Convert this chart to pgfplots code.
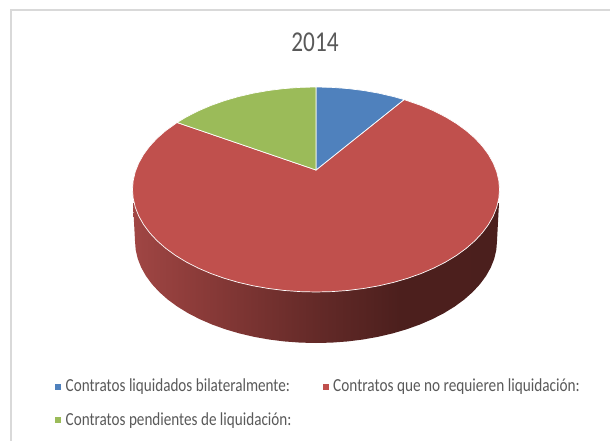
\documentclass[border=0pt]{standalone}
\usepackage{fontspec}
\setmainfont{Carlito}
\usepackage{graphicx}
\usepackage{pgfplots}
\usepackage{pgfplotstable}
\pgfplotsset{compat=1.18}
\definecolor{pblue}{HTML}{4F81BD}
\definecolor{pred}{HTML}{C0504D}
\definecolor{pgreen}{HTML}{9BBB59}
\definecolor{txt}{HTML}{595959}
\definecolor{frame}{HTML}{D9D9D9}
\definecolor{wa}{HTML}{A04644}
\definecolor{wb}{HTML}{8B3B39}
\definecolor{wc}{HTML}{642A28}
\definecolor{wd}{HTML}{4C1F1D}
\definecolor{we}{HTML}{4A1E1C}
\pgfdeclarehorizontalshading{wall}{100bp}{
 color(0bp)=(wa);
 color(25bp)=(wa);
 color(34bp)=(wb);
 color(50bp)=(wc);
 color(61.5bp)=(wd);
 color(100bp)=(we)}
\pgfplotsset{
 sector/.style={mark=none,draw=white,line width=0.7pt},
}
% boundary of the pie top: t = angle on the rim, k = 0 at the apex, 1 on the rim
\pgfplotstableread[row sep=\\]{
t k\\ 0 0\\ 90 1\\ 85 1\\ 80 1\\ 75 1\\ 70 1\\ 65 1\\ 61.3 1\\
}\blue
\pgfplotstableread[row sep=\\]{
t k\\ 0 0\\ 139.2 1\\ 135 1\\ 130 1\\ 125 1\\ 120 1\\ 115 1\\ 110 1\\ 105 1\\ 100 1\\ 95 1\\ 90 1\\
}\green
\pgfplotstableread[row sep=\\]{
t k\\ 0 0\\ 61.3 1\\ 55 1\\ 50 1\\ 45 1\\ 40 1\\ 35 1\\ 30 1\\ 25 1\\ 20 1\\ 15 1\\ 10 1\\ 5 1\\ 0 1\\
-5 1\\ -10 1\\ -15 1\\ -20 1\\ -25 1\\ -30 1\\ -35 1\\ -40 1\\ -45 1\\ -50 1\\ -55 1\\ -60 1\\ -65 1\\ -70 1\\ -75 1\\ -80 1\\ -85 1\\ -90 1\\
-95 1\\ -100 1\\ -105 1\\ -110 1\\ -115 1\\ -120 1\\ -125 1\\ -130 1\\ -135 1\\ -140 1\\ -145 1\\ -150 1\\ -155 1\\ -160 1\\ -165 1\\ -170 1\\ -175 1\\ -180 1\\
-185 1\\ -190 1\\ -195 1\\ -200 1\\ -205 1\\ -210 1\\ -215 1\\ -220.8 1\\
}\red
% side wall: e widens the radius, d shifts the row up
\pgfplotstableread[row sep=\\]{
t e d\\ 180 2 -38\\ 180 0 0\\ 185 0 0\\ 190 0 0\\ 195 0 0\\ 200 0 0\\ 205 0 0\\ 210 0 0\\ 215 0 0\\ 220 0 0\\ 225 0 0\\ 230 0 0\\ 235 0 0\\ 240 0 0\\ 245 0 0\\ 250 0 0\\ 255 0 0\\ 260 0 0\\ 265 0 0\\ 270 0 0\\
275 0 0\\ 280 0 0\\ 285 0 0\\ 290 0 0\\ 295 0 0\\ 300 0 0\\ 305 0 0\\ 310 0 0\\ 315 0 0\\ 320 0 0\\ 325 0 0\\ 330 0 0\\ 335 0 0\\ 340 0 0\\ 345 0 0\\ 350 0 0\\ 355 0 0\\ 360 0 0\\ 360 2 -38\\
}\wallt
\begin{document}
\begin{tikzpicture}
\begin{axis}[
 scale only axis,width=610pt,height=441pt,
 xmin=0,xmax=610,ymin=0,ymax=441,y dir=reverse,
 hide axis,clip=true]
\addplot[frame,line width=2pt,forget plot] coordinates {(11,441)(11,10.5)(610,10.5)};
\addplot[draw=none,shading=wall,mark=none] table[
  x expr=316+(181+\thisrow{e})*cos(\thisrow{t}),
  y expr=241-102*sin(\thisrow{t})+\thisrow{d}] {\wallt} -- cycle;
\addplot[sector,fill=pred] table[
  x expr=316+\thisrow{k}*183.5*cos(\thisrow{t}),
  y expr=170+\thisrow{k}*(19.5-102.5*sin(\thisrow{t}))] {\red} -- cycle;
\addplot[sector,fill=pblue] table[
  x expr=316+\thisrow{k}*183.5*cos(\thisrow{t}),
  y expr=170+\thisrow{k}*(19.5-102.5*sin(\thisrow{t}))] {\blue} -- cycle;
\addplot[sector,fill=pgreen] table[
  x expr=316+\thisrow{k}*183.5*cos(\thisrow{t}),
  y expr=170+\thisrow{k}*(19.5-102.5*sin(\thisrow{t}))] {\green} -- cycle;
\addplot[only marks,mark=square*,mark size=2.4pt,color=pblue] coordinates {(57.5,386.3)};
\addplot[only marks,mark=square*,mark size=2.4pt,color=pred] coordinates {(326,386.3)};
\addplot[only marks,mark=square*,mark size=2.4pt,color=pgreen] coordinates {(57.5,419.8)};
\node[anchor=base,text=txt,inner sep=0pt] at (axis cs:315,52) {\scalebox{0.93}[1.15]{\fontsize{25}{25}\selectfont 2014}};
\node[anchor=base west,text=txt,inner sep=0pt] at (axis cs:65.5,391) {\scalebox{0.947}[1.15]{\fontsize{16}{16}\selectfont Contratos liquidados bilateralmente:}};
\node[anchor=base west,text=txt,inner sep=0pt] at (axis cs:333,391) {\scalebox{0.955}[1.15]{\fontsize{16}{16}\selectfont Contratos que no requieren liquidación:}};
\node[anchor=base west,text=txt,inner sep=0pt] at (axis cs:65.5,425.5) {\scalebox{0.947}[1.15]{\fontsize{16}{16}\selectfont Contratos pendientes de liquidación:}};
\end{axis}
\path[use as bounding box] (0,0) rectangle (610pt,441pt);
\end{tikzpicture}
\end{document}
